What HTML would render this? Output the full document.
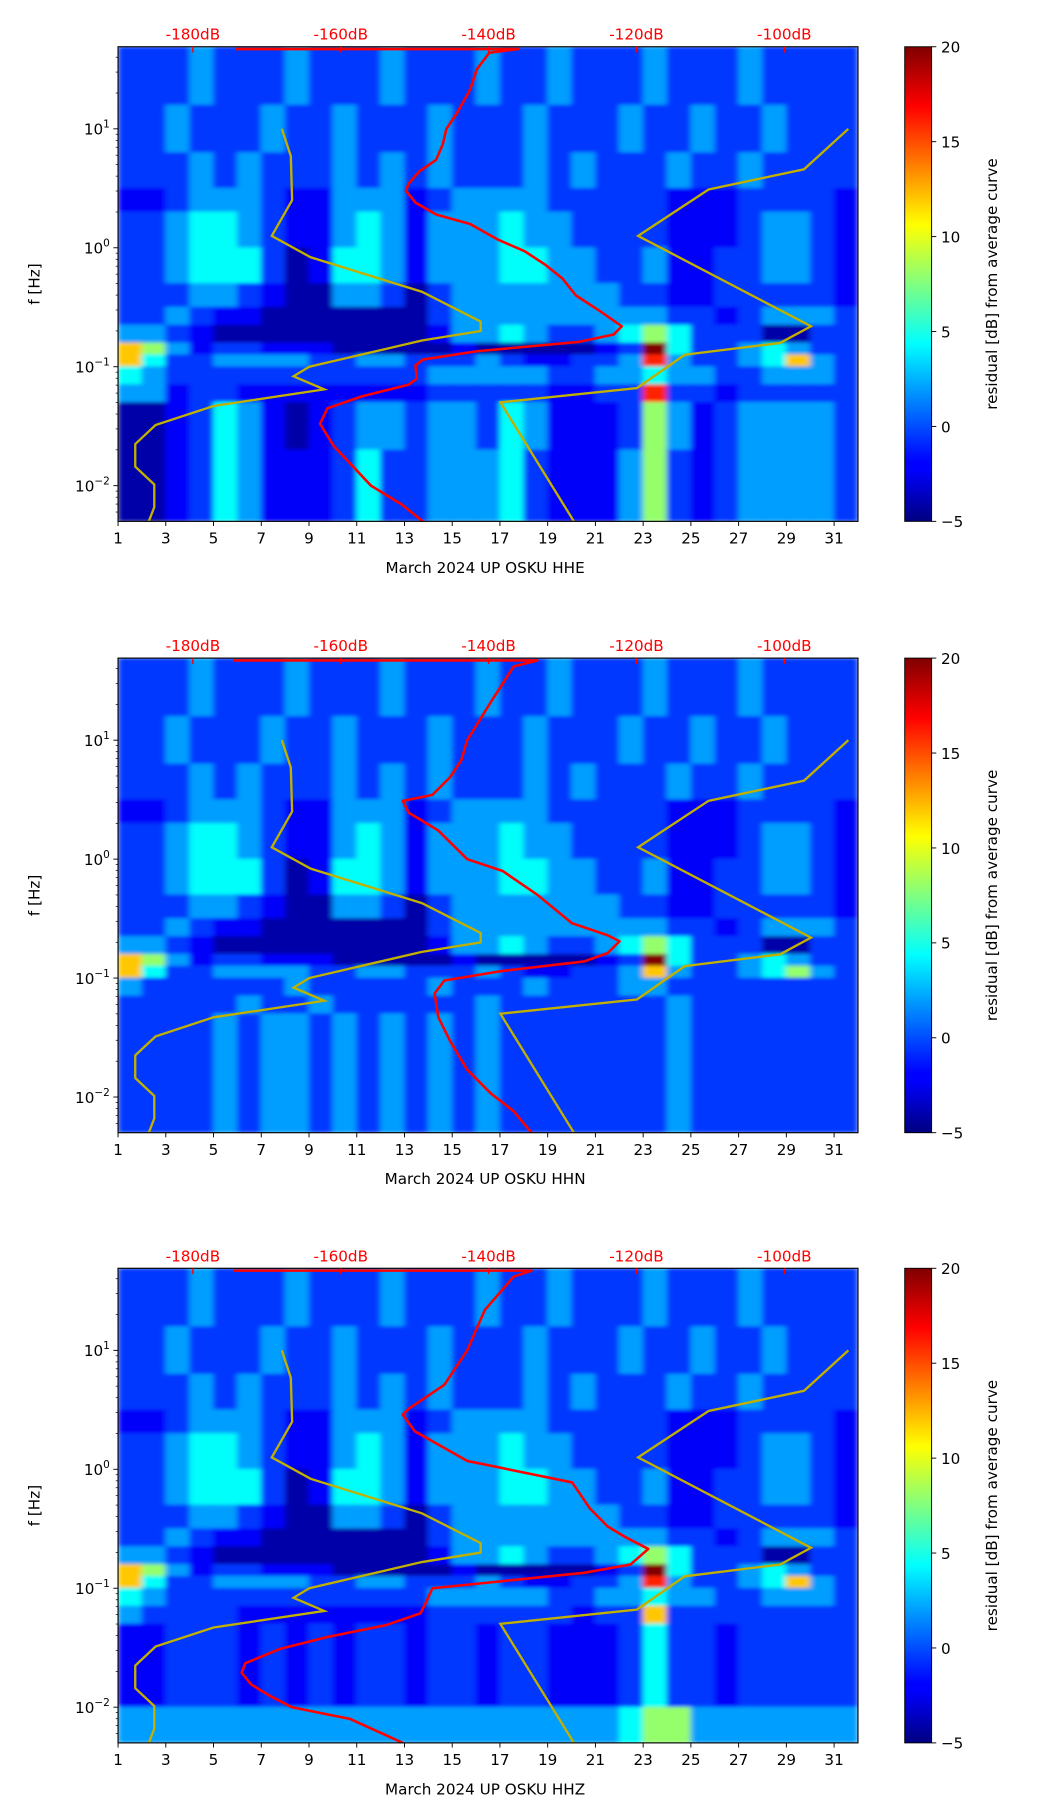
<!DOCTYPE html>
<html><head><meta charset="utf-8">
<style>
html,body{margin:0;padding:0;background:#fff;}
svg{display:block;}
text{font-family:"DejaVu Sans","Liberation Sans",sans-serif;}
</style></head>
<body>
<svg id="fig" xmlns="http://www.w3.org/2000/svg" width="1052" height="1806" viewBox="0 0 900 1545" preserveAspectRatio="none">
<defs>
<filter id="soft" x="-2%" y="-2%" width="104%" height="104%"><feGaussianBlur stdDeviation="2.6 1.6"/></filter>
<linearGradient id="jetgrad" x1="0" y1="1" x2="0" y2="0">
<stop offset="0" stop-color="#000080"/><stop offset="0.11" stop-color="#0000ff"/>
<stop offset="0.125" stop-color="#0000ff"/><stop offset="0.375" stop-color="#00ffff"/>
<stop offset="0.5" stop-color="#80ff80"/><stop offset="0.625" stop-color="#ffff00"/>
<stop offset="0.875" stop-color="#ff0000"/><stop offset="1" stop-color="#800000"/>
</linearGradient>
</defs>
</svg>
<script>
// ---- data ----
const rowEdges = [1.69,1.2,0.8,0.5,0.3,0.0,-0.3,-0.5,-0.65,-0.8,-0.9,-1.0,-1.15,-1.3,-1.7,-2.0,-2.3];
const levelValues = [-5,-4,-2,-0.5,2,4.5,8,12,16,20];
const hheRows = [
"33343 33433 34333 43343 33433 34333 3",
"33433 34334 33343 33433 34334 33433 3",
"33343 43334 34343 33434 33343 34333 3",
"22344 43224 44234 44433 33322 23333 2",
"33455 43224 54244 45443 33322 23443 2",
"33455 53125 54244 45544 33422 33443 2",
"33344 32114 43134 44444 43322 33333 2",
"33432 21111 11134 44444 44433 23444 3",
"44321 11111 11124 45433 45653 33113 3",
"76423 32221 11112 11111 23953 34543 3",
"75334 44433 44333 43223 34843 34574 3",
"54333 33333 33344 44433 44544 33444 3",
"44233 22222 22233 33322 33833 23333 3",
"11235 42123 44344 35422 23642 34444 3",
"11235 42223 53344 45322 24632 34444 3",
"11235 42223 53344 45322 24632 34444 3"];
const hhnRows = [
"33343 33433 34333 43343 33433 34333 3",
"33433 34334 33343 33433 34334 33433 3",
"33343 43334 34343 33434 33343 34333 3",
"22344 43224 44234 44433 33322 23333 2",
"33455 43224 54244 45443 33322 23443 2",
"33455 53125 54244 45544 33422 33443 2",
"33344 32114 43134 44444 43322 33333 2",
"33432 21111 11134 44444 44433 23444 3",
"44321 11111 11124 45433 45653 33113 3",
"76423 32221 11112 11111 23953 34543 3",
"75334 44433 44333 43223 34743 34564 3",
"43333 33433 33343 33433 34433 33333 3",
"33333 43343 33333 43333 33343 33333 3",
"33334 34434 34343 43333 33343 33333 3",
"33334 34434 34343 43333 33343 33333 3",
"33334 34434 34343 43333 33343 33333 3"];
const hhzRows = [
"33343 33433 34333 43343 33433 34333 3",
"33433 34334 33343 33433 34334 33433 3",
"33343 43334 34343 33434 33343 34333 3",
"22344 43224 44234 44433 33322 23333 2",
"33455 43224 54244 45443 33322 23443 2",
"33455 53125 54244 45544 33422 33443 2",
"33344 32114 43134 44444 43322 33333 2",
"33432 21111 11134 44444 44433 23444 3",
"44321 11111 11124 45433 45653 33113 3",
"76423 32221 11112 11111 23953 34543 3",
"75334 44433 44333 43223 34843 34574 3",
"54333 33333 33344 44433 44544 33444 3",
"43333 22222 22233 33332 33733 33333 3",
"22333 23232 33233 23322 23533 23333 3",
"22333 23232 33233 23322 23533 23333 3",
"44444 44444 44444 44444 45664 44444 4"];
// yellow reference curves (day, log10 f)
const yellowLeftDay = [7.86,8.24,8.29,7.44,9.07,13.73,16.19,16.19,13.73,9.01,8.35,9.64,5.0,2.57,1.72,1.72,2.52,2.52,2.29];
const yellowLeftLog = [1.0,0.77,0.40,0.10,-0.08,-0.37,-0.62,-0.70,-0.78,-1.0,-1.08,-1.19,-1.33,-1.49,-1.65,-1.84,-1.99,-2.18,-2.30];
const yellowRightDay = [31.6,29.74,25.74,22.79,30.03,28.74,24.74,22.74,17.02,20.1];
const yellowRightLog = [1.0,0.66,0.49,0.10,-0.66,-0.80,-0.90,-1.18,-1.30,-2.30];
// red PSD curves (dB, log10 f)
const hheRedDb = [-174.3,-136.0,-139.9,-141.6,-142.5,-144.3,-145.7,-146.2,-147.1,-149.4,-150.8,-151.2,-149.9,-147.1,-142.5,-138.8,-135.1,-132.4,-130.0,-128.2,-125.0,-122.0,-123.1,-127.7,-141.6,-148.9,-149.9,-149.7,-150.8,-157.2,-161.8,-162.8,-160.9,-155.9,-151.7,-148.9];
const hheRedLog = [1.67,1.67,1.64,1.5,1.33,1.13,1.0,0.87,0.74,0.64,0.54,0.48,0.38,0.28,0.2,0.07,-0.03,-0.14,-0.26,-0.40,-0.53,-0.66,-0.73,-0.79,-0.87,-0.94,-0.99,-1.1,-1.15,-1.25,-1.35,-1.48,-1.67,-2.0,-2.16,-2.30];
const hhnRedDb = [-174.5,-133.4,-136.6,-139.7,-142.9,-143.7,-145.2,-147.6,-151.6,-150.8,-146.8,-142.9,-138.1,-133.4,-128.7,-123.9,-122.3,-123.9,-127.1,-138.1,-146.0,-147.3,-146.8,-145.2,-142.9,-139.7,-136.6,-134.2];
const hhnRedLog = [1.67,1.67,1.62,1.32,1.0,0.83,0.69,0.54,0.49,0.39,0.24,0.0,-0.1,-0.3,-0.54,-0.64,-0.69,-0.79,-0.86,-0.94,-1.02,-1.13,-1.33,-1.53,-1.77,-1.97,-2.12,-2.30];
const hhzRedDb = [-174.5,-134.2,-136.6,-140.5,-142.9,-146.0,-150.8,-151.6,-150.0,-142.9,-135.0,-128.7,-126.3,-123.9,-121.5,-118.4,-120.8,-127.1,-138.1,-147.6,-148.4,-149.2,-153.9,-161.8,-168.2,-172.9,-173.4,-172.1,-169.7,-166.6,-158.7,-151.6];
const hhzRedLog = [1.67,1.67,1.62,1.34,1.0,0.71,0.51,0.46,0.32,0.07,-0.03,-0.11,-0.33,-0.48,-0.57,-0.67,-0.8,-0.87,-0.94,-1.0,-1.11,-1.21,-1.31,-1.41,-1.51,-1.63,-1.71,-1.81,-1.90,-2.0,-2.1,-2.3];
const xTickDays = [1,3,5,7,9,11,13,15,17,19,21,23,25,27,29,31];
const yTickExps = [1,0,-1,-2];
const dbTicks = [-180,-160,-140,-120,-100];
const cbTicks = [20,15,10,5,0,-5];
const panelNames = ["HHE","HHN","HHZ"];

// ---- geometry ----
const NS="http://www.w3.org/2000/svg";
const svg=document.getElementById('fig');
const PL=101, PW=633, PH=406, TOPS=[40,563,1085];
const DMIN=1, DMAX=32, LMAX=1.69, LMIN=-2.3;
const CBX=774, CBW=23;
function xDay(d){return PL+(d-DMIN)/(DMAX-DMIN)*PW;}
function yLog(l,top){return top+(LMAX-l)/(LMAX-LMIN)*PH;}
function xDb(db){return 165+(db+180)*6.325;}
function yCb(v,top){return top+PH-(v+5)/25*PH;}
function jet(v){
  let t=Math.max(0,Math.min(1,(v+5)/25));
  const r=Math.max(0,Math.min(1,Math.min(4*t-1.5,-4*t+4.5)));
  const g=Math.max(0,Math.min(1,Math.min(4*t-0.5,-4*t+3.5)));
  const b=Math.max(0,Math.min(1,Math.min(4*t+0.5,-4*t+2.5)));
  return `rgb(${Math.round(r*255)},${Math.round(g*255)},${Math.round(b*255)})`;
}
function mk(tag,attrs,parent){const e=document.createElementNS(NS,tag);for(const k in attrs)e.setAttribute(k,attrs[k]);(parent||svg).appendChild(e);return e;}
function txt(s,attrs,parent){const e=mk('text',attrs,parent);e.textContent=s;return e;}
function path(xs,ys){return xs.map((x,i)=>(i?'L':'M')+x.toFixed(1)+' '+ys[i].toFixed(1)).join(' ');}

const allRows=[hheRows,hhnRows,hhzRows];
const allRedDb=[hheRedDb,hhnRedDb,hhzRedDb];
const allRedLog=[hheRedLog,hhnRedLog,hhzRedLog];

TOPS.forEach((top,p)=>{
  const g=mk('g',{});
  
  
  const clipId='clip'+p;
  const cp=mk('clipPath',{id:clipId},g);
  mk('rect',{x:PL,y:top,width:PW,height:PH},cp);
  const outer=mk('g',{'clip-path':`url(#${clipId})`},g);
  const hm=mk('g',{filter:'url(#soft)'},outer);
  
  
  allRows[p].forEach((rowStr,ri)=>{
    const digits=rowStr.replace(/\s/g,'');
    const y0=yLog(rowEdges[ri],top), y1=yLog(rowEdges[ri+1],top);
    for(let c=0;c<digits.length;c++){
      const v=levelValues[+digits[c]];
      const x0=xDay(1+c), x1=xDay(2+c);
      const r=mk('rect',{x:(x0-0.3).toFixed(1),y:(y0-0.3).toFixed(1),width:(x1-x0+0.6).toFixed(1),height:(y1-y0+0.6).toFixed(1),fill:jet(v)},hm);
      
      
    }
  });
  const yl=mk('path',{d:path(yellowLeftDay.map(xDay),yellowLeftLog.map(l=>yLog(l,top))),fill:'none',stroke:'#c2b000','stroke-width':2},outer);
  
  
  const yr=mk('path',{d:path(yellowRightDay.map(xDay),yellowRightLog.map(l=>yLog(l,top))),fill:'none',stroke:'#c2b000','stroke-width':2},outer);
  
  
  const rc=mk('path',{d:path(allRedDb[p].map(xDb),allRedLog[p].map(l=>yLog(l,top))),fill:'none',stroke:'#ff0000','stroke-width':2.2,'stroke-linejoin':'round'},outer);
  
  
  mk('rect',{x:PL,y:top,width:PW,height:PH,fill:'none',stroke:'#000','stroke-width':1},g);
  xTickDays.forEach(d=>{
    const x=xDay(d);
    mk('line',{x1:x,y1:top+PH,x2:x,y2:top+PH+4,stroke:'#000','stroke-width':0.8},g);
    const t=txt(String(d),{x:x,y:top+PH+19,'font-size':13,'text-anchor':'middle',fill:'#000'},g);
    
    
  });
  yTickExps.forEach(e=>{
    const y=yLog(e,top);
    mk('line',{x1:PL-4,y1:y,x2:PL,y2:y,stroke:'#000','stroke-width':0.8},g);
    const t=txt('',{x:PL-7,y:y+5,'font-size':13,'text-anchor':'end',fill:'#000'},g);
    
    
    const a=mk('tspan',{},t);a.textContent='10';
    const b=mk('tspan',{dy:-6,'font-size':9},t);b.textContent=(e<0?'\u2212':'')+Math.abs(e);
  });
  for(let e=-3;e<=1;e++){for(let m=2;m<=9;m++){const l=e+Math.log10(m);if(l>LMAX||l<LMIN)continue;const y=yLog(l,top);mk('line',{x1:PL-2,y1:y,x2:PL,y2:y,stroke:'#000','stroke-width':0.6},g);}}
  dbTicks.forEach(db=>{
    const x=xDb(db);
    mk('line',{x1:x,y1:top,x2:x,y2:top+5,stroke:'#ff0000','stroke-width':1.2},g);
    const t=txt(db+'dB',{x:x,y:top-6,'font-size':13,'text-anchor':'middle',fill:'#ff0000'},g);
    
    
  });
  const xl=txt('March 2024 UP OSKU  '+panelNames[p],{x:415,y:top+PH+44,'font-size':13,'text-anchor':'middle',fill:'#000','xml:space':'preserve'},g);
  
  
  const ylab=txt('f [Hz]',{x:0,y:0,'font-size':13,'text-anchor':'middle',fill:'#000',transform:`translate(34,${top+PH/2}) rotate(-90)`},g);
  
  
  const cb=mk('rect',{x:CBX,y:top,width:CBW,height:PH,fill:'url(#jetgrad)',stroke:'#000','stroke-width':0.8},g);
  
  
  cbTicks.forEach(v=>{
    const y=yCb(v,top);
    mk('line',{x1:CBX+CBW,y1:y,x2:CBX+CBW+4,y2:y,stroke:'#000','stroke-width':0.8},g);
    const t=txt((v<0?'\u2212':'')+Math.abs(v),{x:CBX+CBW+8,y:y+5,'font-size':13,fill:'#000'},g);
    
    
  });
  const cl=txt('residual [dB] from average curve',{x:0,y:0,'font-size':13,'text-anchor':'middle',fill:'#000',transform:`translate(853,${top+PH/2}) rotate(-90)`},g);
  
  
});
</script>
</body></html>
